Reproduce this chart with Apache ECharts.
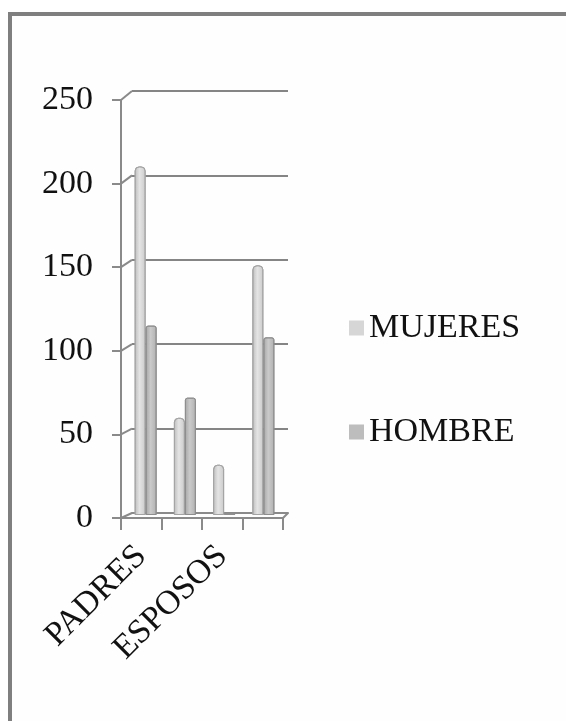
<!DOCTYPE html>
<html>
<head>
<meta charset="utf-8">
<script src="https://cdn.jsdelivr.net/npm/echarts@6/dist/echarts.min.js"></script>
<style>
html,body{margin:0;padding:0;background:#ffffff;}
#chart{width:566px;height:721px;}
</style>
</head>
<body>
<div id="chart"></div>
<script>
const categories = ['PADRES', 'HIJOS', 'ESPOSOS', 'OTROS'];
const mujeres = [208, 58, 30, 149];
const hombre = [113, 70, 1, 106];
const yMin = 0, yMax = 250, yStep = 50;

const FONT = 'Liberation Serif';
const BACK = {left: 132, top: 91, width: 156, height: 422};
const FRONT = {left: 121, top: 100, width: 162, height: 418};
const BARS = {left: 126, top: 96, width: 157, height: 419};

function grad(a, b, c) {
  return new echarts.graphic.LinearGradient(0, 0, 1, 0, [
    {offset: 0, color: a}, {offset: 0.45, color: b}, {offset: 1, color: c}
  ]);
}

const chart = echarts.init(document.getElementById('chart'), null, {renderer: 'canvas'});
const option = {
  animation: false,
  backgroundColor: '#ffffff',
  grid: [BACK, FRONT, BARS],
  legend: {
    orient: 'vertical', left: 344, top: 306,
    itemWidth: 15, itemHeight: 15, itemGap: 70,
    icon: 'rect',
    textStyle: {fontFamily: FONT, fontSize: 34, color: '#111', lineHeight: 34},
    data: [
      {name: 'MUJERES', itemStyle: {color: '#d6d6d6', borderWidth: 0}},
      {name: 'HOMBRE', itemStyle: {color: '#bdbdbd', borderWidth: 0}}
    ]
  },
  xAxis: [
    {gridIndex: 0, type: 'category', data: categories,
     axisLine: {show: true, lineStyle: {color: '#8a8a8a', width: 2}},
     axisTick: {show: false}, axisLabel: {show: false}},
    {gridIndex: 1, type: 'category', data: categories, boundaryGap: true,
     axisLine: {show: true, lineStyle: {color: '#8a8a8a', width: 2}},
     axisTick: {show: true, length: 12, interval: 0, alignWithLabel: false, lineStyle: {color: '#8a8a8a', width: 2}},
     axisLabel: {interval: 1, rotate: 45, fontFamily: FONT, fontSize: 34, color: '#111', margin: 33}},
    {gridIndex: 2, type: 'category', data: categories, show: false}
  ],
  yAxis: [
    {gridIndex: 0, type: 'value', min: yMin, max: yMax, interval: yStep,
     axisLine: {show: false}, axisTick: {show: false}, axisLabel: {show: false},
     splitLine: {show: true, lineStyle: {color: '#858585', width: 2}}},
    {gridIndex: 1, type: 'value', min: yMin, max: yMax, interval: yStep,
     axisLine: {show: true, lineStyle: {color: '#8a8a8a', width: 2}},
     axisTick: {show: true, length: 9, lineStyle: {color: '#8a8a8a', width: 2}},
     axisLabel: {fontFamily: FONT, fontSize: 34, color: '#111', margin: 28, padding: [6, 0, 0, 0]},
     splitLine: {show: false}},
    {gridIndex: 2, type: 'value', min: yMin, max: yMax, interval: yStep, show: false, splitLine: {show: false}}
  ],
  series: [
    {name: 'MUJERES', type: 'bar', xAxisIndex: 2, yAxisIndex: 2, data: mujeres,
     barWidth: 11, barGap: '0%',
     itemStyle: {color: grad('#bcbcbc', '#e4e4e4', '#cacaca'), borderColor: '#a4a4a4', borderWidth: 1, borderRadius: [4, 4, 0, 0]}},
    {name: 'HOMBRE', type: 'bar', xAxisIndex: 2, yAxisIndex: 2, data: hombre,
     barWidth: 11, barGap: '0%',
     itemStyle: {color: grad('#a6a6a6', '#cacaca', '#b0b0b0'), borderColor: '#8e8e8e', borderWidth: 1, borderRadius: [2, 2, 0, 0]}}
  ]
};
chart.setOption(option);

// 3D decoration: connectors from front axis ticks to back wall gridlines
const elements = [];
for (let v = yMin; v <= yMax; v += yStep) {
  const fy = chart.convertToPixel({yAxisIndex: 1}, v);
  const by = chart.convertToPixel({yAxisIndex: 0}, v);
  elements.push({type: 'line', shape: {x1: FRONT.left, y1: fy, x2: BACK.left, y2: by},
    style: {stroke: '#8a8a8a', lineWidth: 2}, z: 5});
}
const fy0 = chart.convertToPixel({yAxisIndex: 1}, yMin);
const by0 = chart.convertToPixel({yAxisIndex: 0}, yMin);
elements.push({type: 'line', shape: {x1: FRONT.left + FRONT.width, y1: fy0, x2: BACK.left + BACK.width, y2: by0},
  style: {stroke: '#8a8a8a', lineWidth: 2}, z: 5});
// outer frame
elements.push({type: 'rect', shape: {x: 10, y: 14, width: 700, height: 900},
  style: {fill: '#fefefe', stroke: '#7f7f7f', lineWidth: 4}, z: -10, silent: true});
chart.setOption({graphic: {elements: elements}});
</script>
</body>
</html>
